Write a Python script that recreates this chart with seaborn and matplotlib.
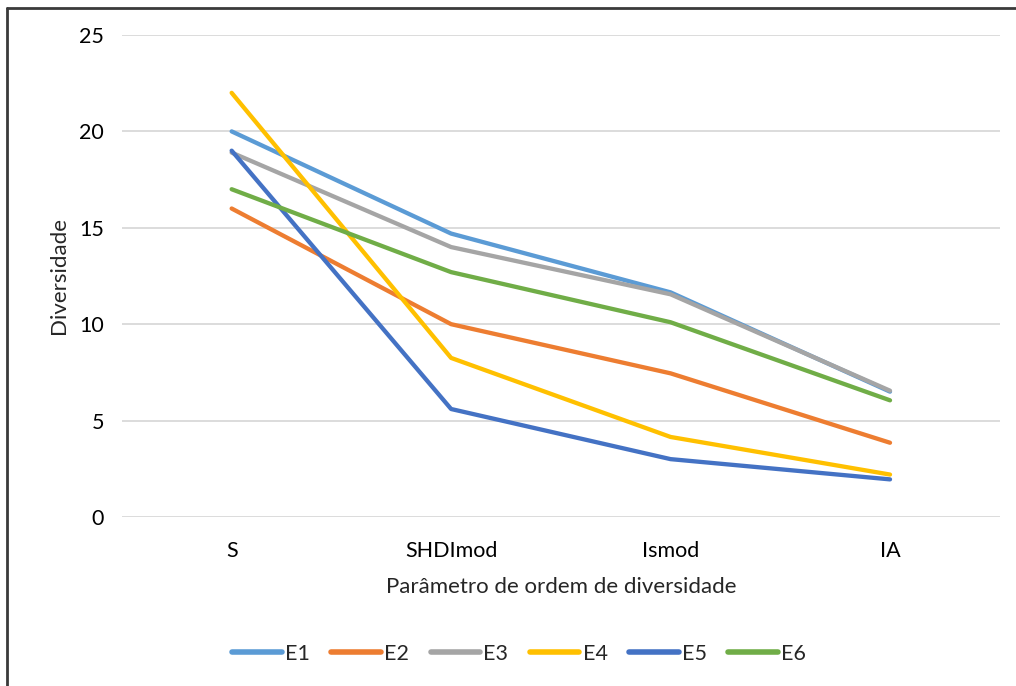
import matplotlib
matplotlib.use("Agg")
import matplotlib.pyplot as plt
from matplotlib.lines import Line2D
import seaborn as sns
import pandas as pd

# Diversity parameters (x axis) and values for each site
parametros = ["S", "SHDImod", "Ismod", "IA"]
series_nomes = ["E1", "E2", "E3", "E4", "E5", "E6"]
e1 = [20.0, 14.7, 11.65, 6.5]
e2 = [16.0, 10.0, 7.45, 3.85]
e3 = [18.9, 14.0, 11.55, 6.55]
e4 = [22.0, 8.25, 4.15, 2.2]
e5 = [19.0, 5.6, 3.0, 1.95]
e6 = [17.0, 12.7, 10.1, 6.05]
cores = ["#5B9BD5", "#ED7D31", "#A5A5A5", "#FFC000", "#4472C4", "#70AD47"]

valores = [e1, e2, e3, e4, e5, e6]
df = pd.DataFrame(
    [(p, nome, v) for nome, vals in zip(series_nomes, valores)
     for p, v in zip(parametros, vals)],
    columns=["Parametro", "Serie", "Valor"],
)
df["pos"] = df["Parametro"].map({p: i for i, p in enumerate(parametros)})

sns.set_theme(style="white")
plt.rcParams["font.family"] = ["Lato", "DejaVu Sans"]

fig = plt.figure(figsize=(10.16, 6.86), dpi=100)
ax = fig.add_axes([0.12, 0.2464, 0.864, 0.7026])

sns.lineplot(
    data=df, x="pos", y="Valor", hue="Serie", hue_order=series_nomes,
    palette=cores, linewidth=3.1, ax=ax, legend=False, sort=False,
)
for ln in ax.lines:
    ln.set_solid_capstyle("round")
    ln.set_solid_joinstyle("round")

ax.set_xlim(-0.5, 3.5)
ax.set_ylim(0, 25)
ax.set_yticks([0, 5, 10, 15, 20, 25])
ax.set_xticks(range(len(parametros)))
ax.set_xticklabels(parametros)
ax.tick_params(axis="both", length=0, labelsize=15.5, colors="#000000")
ax.tick_params(axis="y", pad=13)
ax.tick_params(axis="x", pad=17)
ax.yaxis.grid(True, color="#D9D9D9", linewidth=1.3)
ax.set_axisbelow(True)
for s in ax.spines.values():
    s.set_visible(False)

ax.set_xlabel("Parâmetro de ordem de diversidade", fontsize=16, labelpad=12)
ax.set_ylabel("Diversidade", fontsize=16, labelpad=7)

handles = [Line2D([0], [0], color=c, lw=4, solid_capstyle="round") for c in cores]
fig.legend(handles, series_nomes, loc="center", bbox_to_anchor=(0.511, 0.047),
           ncol=6, frameon=False, fontsize=15.5, handlelength=2.3,
           handletextpad=0.15, columnspacing=1.0)

# Frame edges on top and left
fig.add_artist(Line2D([0.0065, 1.0], [0.988, 0.988], transform=fig.transFigure,
                      color="#3A3A3A", lw=2))
fig.add_artist(Line2D([0.0065, 0.0065], [0.0, 0.988], transform=fig.transFigure,
                      color="#3A3A3A", lw=2))

fig.savefig("out.png", dpi=100, facecolor="white")
